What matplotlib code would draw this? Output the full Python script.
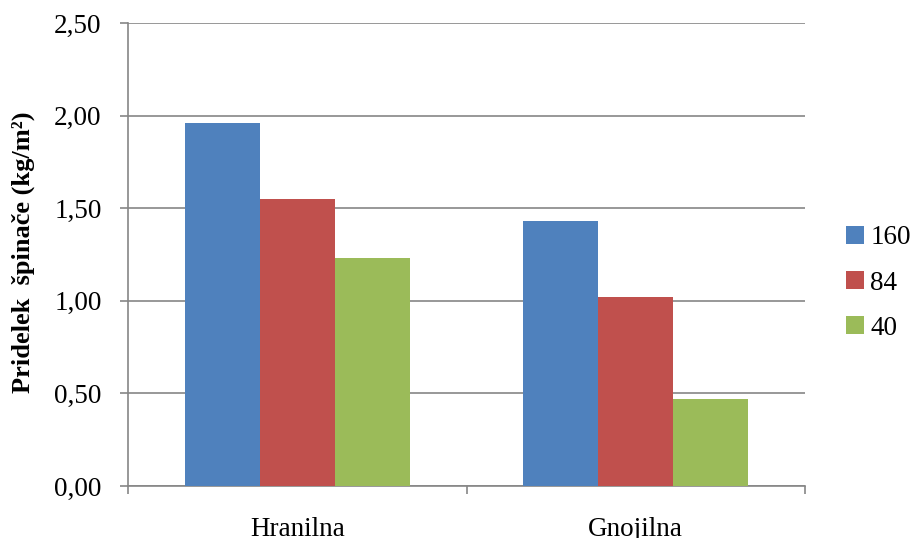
import matplotlib.pyplot as plt
import numpy as np

# Data
categories = ['Hranilna', 'Gnojilna']
series_names = ['160', '84', '40']
values_160 = [1.96, 1.43]
values_84 = [1.55, 1.02]
values_40 = [1.23, 0.47]
colors = ['#4F81BD', '#C0504D', '#9BBB59']

plt.rcParams['font.family'] = ['Liberation Serif', 'DejaVu Serif']

fig = plt.figure(figsize=(9.1, 5.38), dpi=100)
ax = fig.add_axes([0.1407, 0.0967, 0.7439, 0.8605])

x = np.arange(len(categories))
width = 0.2216
for i, (vals, name) in enumerate(zip([values_160, values_84, values_40], series_names)):
    ax.bar(x + (i - 1) * width, vals, width, color=colors[i], label=name, zorder=3)

ax.set_xlim(-0.5, 1.5)
ax.set_ylim(0, 2.5)
ax.set_yticks(np.arange(0, 2.51, 0.5))
ax.set_yticklabels([f'{v:.2f}'.replace('.', ',') for v in np.arange(0, 2.51, 0.5)], fontsize=19.5)
ax.yaxis.grid(True, color='#868686', linewidth=1.2, zorder=0)

# category boundaries as major ticks, labels on minor ticks
ax.set_xticks([-0.5, 0.5, 1.5])
ax.set_xticklabels([])
ax.set_xticks(x, minor=True)
ax.set_xticklabels(categories, minor=True, fontsize=19.5)
ax.tick_params(axis='x', which='minor', length=0, pad=22)
ax.tick_params(axis='x', which='major', length=6, color='#868686', width=1.2)
ax.tick_params(axis='y', length=6, color='#868686', width=1.2, pad=13)

for s in ['top', 'right']:
    ax.spines[s].set_visible(False)
for s in ['left', 'bottom']:
    ax.spines[s].set_color('#868686')
    ax.spines[s].set_linewidth(1.2)

fig.text(23 / 910, 1 - 252 / 538, 'Pridelek  špinače (kg/m²)', rotation=90,
         ha='center', va='center', fontsize=19, fontweight='bold')

ax.legend(loc='center left', bbox_to_anchor=(846 / 910, 1 - 283 / 538),
          bbox_transform=fig.transFigure, frameon=False,
          fontsize=19.5, handlelength=0.65, handleheight=0.65, handletextpad=0.25,
          labelspacing=0.75, borderaxespad=0, borderpad=0)

fig.savefig('out.png', dpi=100)
